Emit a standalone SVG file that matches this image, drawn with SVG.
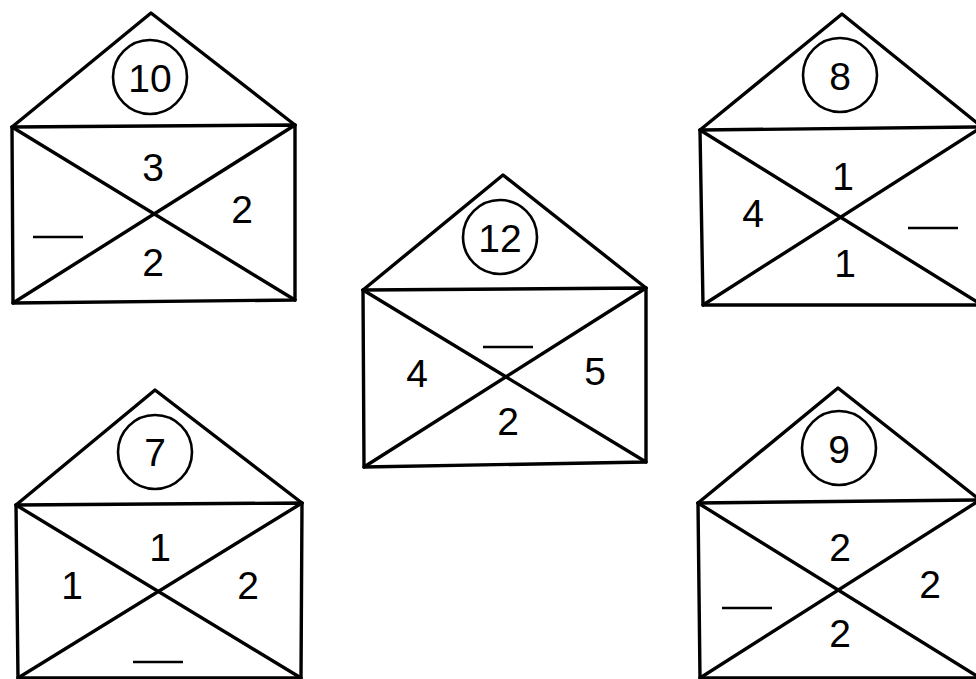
<svg xmlns="http://www.w3.org/2000/svg" width="976" height="679" viewBox="0 0 976 679">
<style>
.ln{fill:none;stroke:#000;stroke-width:3.4;stroke-linejoin:round;stroke-linecap:round}
.ring{fill:none;stroke:#000;stroke-width:2.6}
.blank{stroke:#000;stroke-width:2.6}
text{font-family:"Liberation Sans",Arial,sans-serif;font-size:39px;fill:#000;text-anchor:middle}
</style>
<rect width="976" height="679" fill="#fff"/>
<g id="env10">
<polygon class="ln" points="12,127 295,125 295,300 13,303"/>
<polyline class="ln" points="12,127 151,13 295,125"/>
<line class="ln" x1="12" y1="127" x2="295" y2="300"/>
<line class="ln" x1="295" y1="125" x2="13" y2="303"/>
<circle class="ring" cx="150" cy="77" r="37"/>
<text x="150" y="92">10</text>
<text x="153" y="181">3</text>
<text x="242" y="223">2</text>
<text x="153" y="276">2</text>
<line class="blank" x1="33" y1="237" x2="83" y2="237"/>
</g>
<g id="env12">
<polygon class="ln" points="363,290 646,288 646,462 364,467"/>
<polyline class="ln" points="363,290 503,175 646,288"/>
<line class="ln" x1="363" y1="290" x2="646" y2="462"/>
<line class="ln" x1="646" y1="288" x2="364" y2="467"/>
<circle class="ring" cx="500" cy="237" r="37"/>
<text x="500" y="252">12</text>
<text x="417" y="387">4</text>
<text x="595" y="385">5</text>
<text x="508" y="435">2</text>
<line class="blank" x1="483" y1="347" x2="533" y2="347"/>
</g>
<g id="env8">
<polygon class="ln" points="700,130 982,127 982,305 703,305"/>
<polyline class="ln" points="700,130 842,14 982,127"/>
<line class="ln" x1="700" y1="130" x2="982" y2="305"/>
<line class="ln" x1="982" y1="127" x2="703" y2="305"/>
<circle class="ring" cx="840" cy="75" r="37"/>
<text x="840" y="90">8</text>
<text x="843" y="190">1</text>
<text x="753" y="227">4</text>
<text x="845" y="277">1</text>
<line class="blank" x1="908" y1="228" x2="958" y2="228"/>
</g>
<g id="env7">
<polygon class="ln" points="16,505 302,503 301,678 18,678"/>
<polyline class="ln" points="16,505 155,390 302,503"/>
<line class="ln" x1="16" y1="505" x2="301" y2="678"/>
<line class="ln" x1="302" y1="503" x2="18" y2="678"/>
<circle class="ring" cx="155" cy="452" r="37"/>
<text x="155" y="466">7</text>
<text x="160" y="561">1</text>
<text x="72" y="599">1</text>
<text x="248" y="599">2</text>
<line class="blank" x1="133" y1="662" x2="183" y2="662"/>
</g>
<g id="env9">
<polygon class="ln" points="698,503 980,500 980,678 700,678"/>
<polyline class="ln" points="698,503 838,388 980,500"/>
<line class="ln" x1="698" y1="503" x2="980" y2="678"/>
<line class="ln" x1="980" y1="500" x2="700" y2="678"/>
<circle class="ring" cx="839" cy="448" r="37"/>
<text x="839" y="463">9</text>
<text x="840" y="561">2</text>
<text x="930" y="598">2</text>
<text x="840" y="647">2</text>
<line class="blank" x1="722" y1="608" x2="772" y2="608"/>
</g>
<g id="connectors"/>
</svg>
